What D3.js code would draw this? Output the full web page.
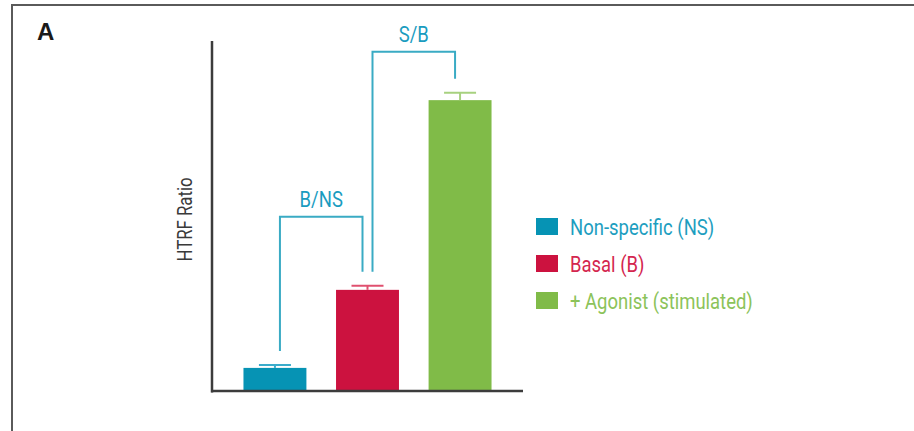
<!DOCTYPE html>
<html>
<head>
<meta charset="utf-8">
<script src="https://cdn.jsdelivr.net/npm/d3@7"></script>
<style>
  body { margin: 0; background: #fff; }
  svg text { font-family: Roboto, "Liberation Sans", sans-serif; font-weight: 400; }
</style>
</head>
<body>
<svg id="chart" width="914" height="431"></svg>
<script>
var categories = ['Non-specific (NS)', 'Basal (B)', '+ Agonist (stimulated)']
var values = [6.6, 28.9, 83.1]
var errors = [0.8, 1.2, 2.1]
var colors = ['#0693b4', '#cc123f', '#80bb48']
var capColors = ['#3aaccb', '#e0506f', '#a7d17f']
var textColors = ['#1d9ec0', '#d4264f', '#8cc35a']

// brackets: from category, to category, label, height of the top line
var brackets = [
	{ from: 0, to: 1, label: 'B/NS', top: 49.8 },
	{ from: 1, to: 2, label: 'S/B', top: 96.9 }
]

// the original uses a condensed face, so squeeze the text horizontally
var narrow = 0.84

var svg = d3.select('#chart')

// panel frame (runs off the right and bottom edge)
svg.append('rect')
	.attr('x', 12)
	.attr('y', 5)
	.attr('width', 960)
	.attr('height', 480)
	.attr('fill', 'none')
	.attr('stroke', '#5a5a5a')
	.attr('stroke-width', 2)

svg.append('text')
	.attr('x', 37)
	.attr('y', 40)
	.style('font-family', '"Liberation Sans", Arial, sans-serif')
	.style('font-weight', 'bold')
	.style('font-size', '24px')
	.style('fill', '#1a1a1a')
	.text('A')

var x = d3.scaleBand()
	.domain(d3.range(categories.length))
	.range([212, 523])
	.paddingInner(0.32)
	.paddingOuter(0.34)

var y = d3.scaleLinear()
	.domain([0, 100])
	.range([391, 41])

// bars
svg.selectAll('.bar')
	.data(values)
	.enter().append('rect')
	.attr('class', 'bar')
	.attr('x', (d, i) => x(i))
	.attr('y', d => y(d))
	.attr('width', x.bandwidth())
	.attr('height', d => y(0) - y(d))
	.attr('fill', (d, i) => colors[i])

// error bars
var err = svg.selectAll('.err')
	.data(values)
	.enter().append('g')
	.attr('class', 'err')
	.attr('stroke', (d, i) => capColors[i])
	.attr('stroke-width', 2)

err.append('line')
	.attr('x1', (d, i) => x(i) + x.bandwidth() / 2)
	.attr('x2', (d, i) => x(i) + x.bandwidth() / 2)
	.attr('y1', d => y(d))
	.attr('y2', (d, i) => y(d + errors[i]))

err.append('line')
	.attr('x1', (d, i) => x(i) + x.bandwidth() / 2 - 16)
	.attr('x2', (d, i) => x(i) + x.bandwidth() / 2 + 16)
	.attr('y1', (d, i) => y(d + errors[i]))
	.attr('y2', (d, i) => y(d + errors[i]))

// axes (no ticks)
svg.append('line')
	.attr('x1', 212).attr('x2', 212)
	.attr('y1', y(100)).attr('y2', y(0) + 1.5)
	.attr('stroke', '#3c3c3c')
	.attr('stroke-width', 2.5)

svg.append('line')
	.attr('x1', 211).attr('x2', 523)
	.attr('y1', y(0)).attr('y2', y(0))
	.attr('stroke', '#3c3c3c')
	.attr('stroke-width', 2.5)

svg.append('text')
	.attr('transform', 'translate(192,' + y(49) + ') rotate(-90) scale(' + narrow + ',1)')
	.style('text-anchor', 'middle')
	.style('font-size', '20px')
	.style('fill', '#3a3a3a')
	.text('HTRF Ratio')

// significance brackets
function legX(i, side) {
	return x(i) + x.bandwidth() / 2 + side * 5
}
function legBottom(i) {
	return y(values[i] + errors[i]) - 14
}

var br = svg.selectAll('.bracket')
	.data(brackets)
	.enter().append('g')
	.attr('class', 'bracket')

br.append('path')
	.attr('d', d => 'M' + legX(d.from, 1) + ',' + legBottom(d.from)
		+ 'V' + y(d.top)
		+ 'H' + legX(d.to, -1)
		+ 'V' + legBottom(d.to))
	.attr('fill', 'none')
	.attr('stroke', '#3aabc4')
	.attr('stroke-width', 2)

br.append('text')
	.attr('transform', d => 'translate(' + (legX(d.from, 1) + legX(d.to, -1)) / 2 + ','
		+ (y(d.top) - 10) + ') scale(' + narrow + ',1)')
	.style('text-anchor', 'middle')
	.style('font-size', '22px')
	.style('fill', '#1a9cbf')
	.text(d => d.label)

// legend
var legend = svg.selectAll('.legend')
	.data(categories)
	.enter().append('g')
	.attr('class', 'legend')
	.attr('transform', (d, i) => 'translate(536,' + (218 + i * 37) + ')')

legend.append('rect')
	.attr('width', 22)
	.attr('height', 17)
	.attr('fill', (d, i) => colors[i])

legend.append('text')
	.attr('transform', 'translate(34,17) scale(' + narrow + ',1)')
	.style('font-size', '22px')
	.style('fill', (d, i) => textColors[i])
	.text(d => d)
</script>
</body>
</html>
